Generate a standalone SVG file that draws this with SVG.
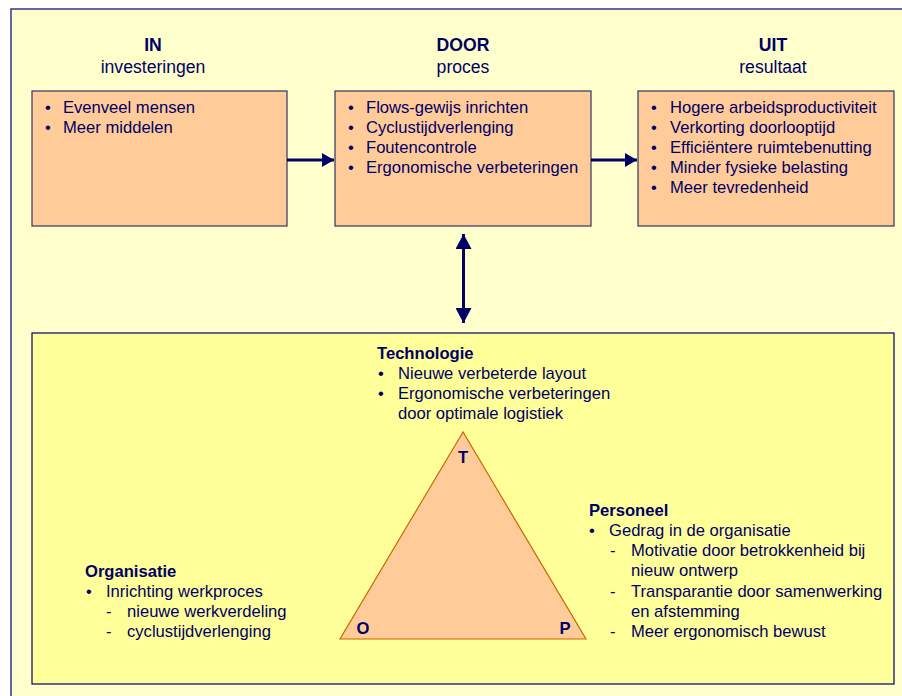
<svg xmlns="http://www.w3.org/2000/svg" width="902" height="696" viewBox="0 0 902 696">
  <style>
    text { font-family: "Liberation Sans", Arial, sans-serif; font-size: 16.6px; fill: #000066; }
    .b { font-weight: bold; }
    .h { font-size: 17.6px; }
    .mid { text-anchor: middle; }
    .box { fill: #FFCC99; stroke: #333366; stroke-width: 1.2; }
    .conn { stroke: #000066; stroke-width: 3; fill: none; }
  </style>
  <defs>
    <marker id="ah" viewBox="0 0 12 14" refX="12" refY="7" markerWidth="12" markerHeight="14" markerUnits="userSpaceOnUse" orient="auto-start-reverse">
      <path d="M0,0 L12,7 L0,14 Z" fill="#000066"/>
    </marker>
    <marker id="ahv" viewBox="0 0 15 16" refX="15" refY="8" markerWidth="15" markerHeight="16" markerUnits="userSpaceOnUse" orient="auto-start-reverse">
      <path d="M0,0 L15,8 L0,16 Z" fill="#000066"/>
    </marker>
  </defs>

  <!-- page background -->
  <rect x="0" y="0" width="902" height="696" fill="#FFFFFF"/>
  <rect x="11" y="9" width="900" height="700" fill="#FFFFCC" stroke="#333399" stroke-width="1.5"/>

  <!-- column headings -->
  <g id="heading-in">
    <text class="b mid h" x="153" y="51">IN</text>
    <text class="mid h" x="153" y="73">investeringen</text>
  </g>
  <g id="heading-door">
    <text class="b mid h" x="463" y="51">DOOR</text>
    <text class="mid h" x="463" y="73">proces</text>
  </g>
  <g id="heading-uit">
    <text class="b mid h" x="773" y="51">UIT</text>
    <text class="mid h" x="773" y="73">resultaat</text>
  </g>

  <!-- IN box -->
  <g id="node-in">
    <rect class="box" x="32" y="91" width="255" height="135"/>
    <text x="45" y="113">•</text><text x="63" y="113">Evenveel mensen</text>
    <text x="45" y="133">•</text><text x="63" y="133">Meer middelen</text>
  </g>

  <!-- DOOR box -->
  <g id="node-door">
    <rect class="box" x="335" y="91" width="256" height="135"/>
    <text x="348" y="113">•</text><text x="366" y="113">Flows-gewijs inrichten</text>
    <text x="348" y="133">•</text><text x="366" y="133">Cyclustijdverlenging</text>
    <text x="348" y="153">•</text><text x="366" y="153">Foutencontrole</text>
    <text x="348" y="173">•</text><text x="366" y="173">Ergonomische verbeteringen</text>
  </g>

  <!-- UIT box -->
  <g id="node-uit">
    <rect class="box" x="638" y="91" width="256" height="135"/>
    <text x="651" y="113">•</text><text x="670" y="113">Hogere arbeidsproductiviteit</text>
    <text x="651" y="133">•</text><text x="670" y="133">Verkorting doorlooptijd</text>
    <text x="651" y="153">•</text><text x="670" y="153">Efficiëntere ruimtebenutting</text>
    <text x="651" y="173">•</text><text x="670" y="173">Minder fysieke belasting</text>
    <text x="651" y="193">•</text><text x="670" y="193">Meer tevredenheid</text>
  </g>

  <!-- connectors -->
  <g id="connectors">
    <line class="conn" x1="287" y1="160" x2="334" y2="160" marker-end="url(#ah)"/>
    <line class="conn" x1="591" y1="160" x2="637" y2="160" marker-end="url(#ah)"/>
    <line class="conn" x1="463.5" y1="234" x2="463.5" y2="323" marker-start="url(#ahv)" marker-end="url(#ahv)"/>
  </g>

  <!-- TOP model box -->
  <g id="node-top">
    <rect x="32" y="333" width="862" height="351" fill="#FFFF99" stroke="#000066" stroke-width="1.2"/>
    <polygon points="463,432 340,639 586,639" fill="#FFCC99" stroke="#CC6600" stroke-width="1.2"/>
    <text class="b mid" x="463" y="463">T</text>
    <text class="b mid" x="363" y="634">O</text>
    <text class="b mid" x="565" y="634">P</text>
  </g>

  <g id="label-technologie">
    <text class="b" x="377" y="359">Technologie</text>
    <text x="378" y="379">•</text><text x="398" y="379">Nieuwe verbeterde layout</text>
    <text x="378" y="399">•</text><text x="398" y="399">Ergonomische verbeteringen</text>
    <text x="398" y="419">door optimale logistiek</text>
  </g>

  <g id="label-organisatie">
    <text class="b" x="85" y="577">Organisatie</text>
    <text x="86" y="597">•</text><text x="106" y="597">Inrichting werkproces</text>
    <text x="106" y="617">-</text><text x="127" y="617">nieuwe werkverdeling</text>
    <text x="106" y="637">-</text><text x="127" y="637">cyclustijdverlenging</text>
  </g>

  <g id="label-personeel">
    <text class="b" x="589" y="516">Personeel</text>
    <text x="589" y="536">•</text><text x="609" y="536">Gedrag in de organisatie</text>
    <text x="610" y="556">-</text><text x="631" y="556">Motivatie door betrokkenheid bij</text>
    <text x="631" y="576">nieuw ontwerp</text>
    <text x="610" y="597">-</text><text x="631" y="597">Transparantie door samenwerking</text>
    <text x="631" y="617">en afstemming</text>
    <text x="610" y="637">-</text><text x="631" y="637">Meer ergonomisch bewust</text>
  </g>
</svg>
